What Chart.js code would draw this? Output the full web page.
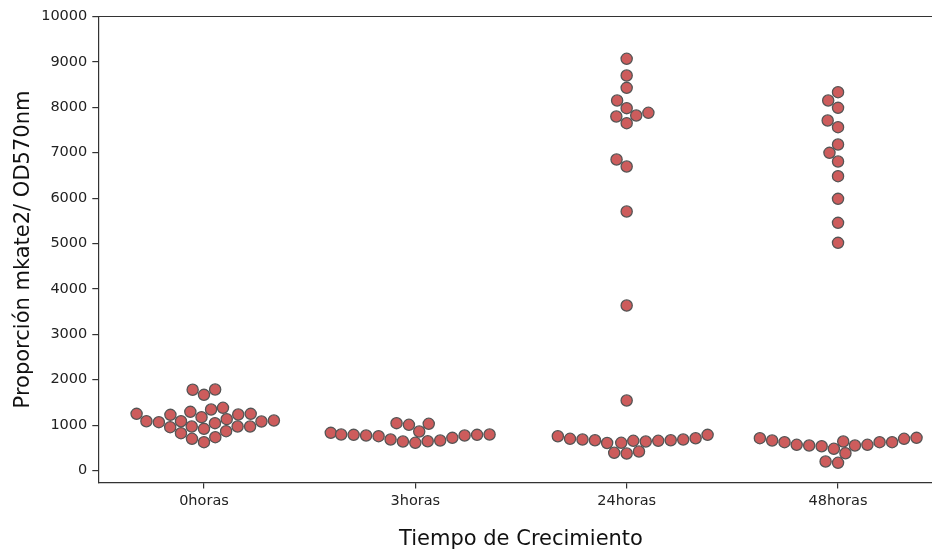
<!DOCTYPE html>
<html>
<head>
<meta charset="utf-8">
<script src="https://cdn.jsdelivr.net/npm/chart.js@4"></script>
<style>
  html, body { margin: 0; padding: 0; background: #fff; overflow: hidden; width: 932px; height: 554px; }
  canvas { display: block; }
</style>
</head>
<body>
<canvas id="c" width="944" height="554"></canvas>
<script>
// Growth-time groups and the mkate2 / OD570 ratio measured in each
const categories = ['0horas', '3horas', '24horas', '48horas'];
const values0h = [1778, 1667, 1784, 1248, 1079, 1248, 969, 1233, 969, 1381, 1086, 822, 1344, 969,
                  698, 1175, 918, 624, 1292, 1043, 734, 1131, 866, 1226, 954, 1065, 1086, 1101];
const values3h = [830, 793, 786, 771, 756, 683, 1029, 639, 859, 610, 1007, 645, 1043, 661, 720, 771, 786, 793];
const values24h = [9068, 8700, 8429, 8150, 7981, 7797, 7819, 7879, 7650, 6850, 6696, 5705, 3634, 1542,
                   374, 390, 419, 606, 610, 639, 654, 654, 667, 667, 683, 683, 698, 711, 755, 786];
const values48h = [8333, 8150, 7988, 7709, 7562, 7181, 6997, 6806, 6483, 5984, 5455, 5015,
                   720, 661, 624, 566, 566, 551, 198, 478, 170, 698, 381, 535, 551, 624, 624, 639, 712];
const yTicks = [0, 1000, 2000, 3000, 4000, 5000, 6000, 7000, 8000, 9000, 10000];

const groups = [values0h, values3h, values24h, values48h];
const SWARM_R = 5.95;     // collision radius in px
const SWARM_HALF = 0.4;   // max half-width of a swarm in category units

// Closed frame around the plotting area (top/right spines)
const framePlugin = {
  id: 'frame',
  afterDraw(chart) {
    const a = chart.chartArea, ctx = chart.ctx;
    ctx.save();
    ctx.strokeStyle = '#333';
    ctx.lineWidth = 1.2;
    ctx.beginPath();
    ctx.moveTo(a.left, a.top);
    ctx.lineTo(a.right, a.top);
    ctx.lineTo(a.right, a.bottom);
    ctx.stroke();
    ctx.restore();
  }
};

// Beeswarm placement: each point (ascending by value) takes the candidate
// position closest to the centre line that does not collide with earlier points.
function beeswarm(vals, cat, chart) {
  const xs = chart.scales.x, ys = chart.scales.y;
  const cx = xs.getPixelForValue(cat);
  const pts = vals.map((v, i) => ({ i, v, x: cx, y: -ys.getPixelForValue(v), r: SWARM_R }))
                  .sort((a, b) => a.y - b.y);
  const swarm = [];
  for (const p of pts) {
    const neighbors = [];
    for (let k = swarm.length - 1; k >= 0; k--) {
      const q = swarm[k];
      if (p.y - q.y < p.r + q.r) neighbors.push(q); else break;
    }
    const cands = [p.x];
    let leftFirst = true;
    for (const q of neighbors) {
      const dy = p.y - q.y;
      const dx = Math.sqrt(Math.max((p.r + q.r) ** 2 - dy * dy, 0)) * 1.05;
      if (leftFirst) cands.push(q.x - dx, q.x + dx); else cands.push(q.x + dx, q.x - dx);
      leftFirst = !leftFirst;
    }
    const order = cands.map((x, k) => ({ x, k })).sort((a, b) => Math.abs(a.x - cx) - Math.abs(b.x - cx) || a.k - b.k);
    let chosen = order[0].x;
    for (const c of order) {
      const ok = neighbors.every(q => (q.x - c.x) ** 2 + (q.y - p.y) ** 2 >= (q.r + p.r) ** 2);
      if (ok) { chosen = c.x; break; }
    }
    p.x = chosen;
    swarm.push(p);
  }
  return swarm.sort((a, b) => a.i - b.i).map(p => {
    let xv = xs.getValueForPixel(p.x);
    xv = Math.max(cat - SWARM_HALF, Math.min(cat + SWARM_HALF, xv));
    return { x: xv, y: p.v };
  });
}

const datasets = groups.map((vals, cat) => ({
  label: categories[cat],
  data: vals.map(v => ({ x: cat, y: v })),
  backgroundColor: '#cd5c5c',
  borderColor: '#555555',
  borderWidth: 1.3,
  pointRadius: 5.6,
  pointHoverRadius: 5.6
}));

const chart = new Chart(document.getElementById('c'), {
  type: 'scatter',
  data: { datasets },
  plugins: [framePlugin],
  options: {
    responsive: false,
    animation: false,
    events: [],
    // the canvas is a little wider than the page, so the right edge of the frame is cut off
    layout: { autoPadding: false, padding: { top: 16.5, right: 0.3, left: 0, bottom: 0 } },
    plugins: { legend: { display: false }, tooltip: { enabled: false } },
    scales: {
      x: {
        type: 'linear',
        min: -0.5,
        max: 3.5,
        afterBuildTicks: s => { s.ticks = categories.map((c, i) => ({ value: i })); },
        afterFit: s => { s.height = 71.5; s.paddingLeft = 0; s.paddingRight = 0; },
        grid: { drawOnChartArea: false, drawTicks: true, tickLength: 6, color: '#333', lineWidth: 1.2 },
        border: { display: true, color: '#333', width: 1.2 },
        ticks: {
          callback: v => categories[v],
          font: { family: 'DejaVu Sans', size: 14.5 },
          color: '#222',
          padding: 4,
          maxRotation: 0,
          autoSkip: false
        },
        title: {
          display: true,
          text: 'Tiempo de Crecimiento',
          font: { family: 'DejaVu Sans', size: 21 },
          color: '#111',
          padding: { top: 0, bottom: 2 }
        }
      },
      y: {
        type: 'linear',
        min: -264,
        max: 10000,
        afterBuildTicks: s => { s.ticks = yTicks.map(v => ({ value: v })); },
        afterFit: s => { s.width = 98.3; s.paddingTop = 0; s.paddingBottom = 0; },
        grid: { drawOnChartArea: false, drawTicks: true, tickLength: 6, color: '#333', lineWidth: 1.2 },
        border: { display: true, color: '#333', width: 1.2 },
        ticks: {
          callback: v => String(v),
          font: { family: 'DejaVu Sans', size: 14.5 },
          color: '#222',
          padding: 5
        },
        title: {
          display: true,
          text: 'Proporción mkate2/ OD570nm',
          font: { family: 'DejaVu Sans', size: 21 },
          color: '#111',
          padding: { top: 10.5, bottom: 0 }
        }
      }
    }
  }
});

// Lay out each group as a swarm using the chart's own scales
groups.forEach((vals, cat) => { chart.data.datasets[cat].data = beeswarm(vals, cat, chart); });
chart.update('none');
</script>
</body>
</html>
